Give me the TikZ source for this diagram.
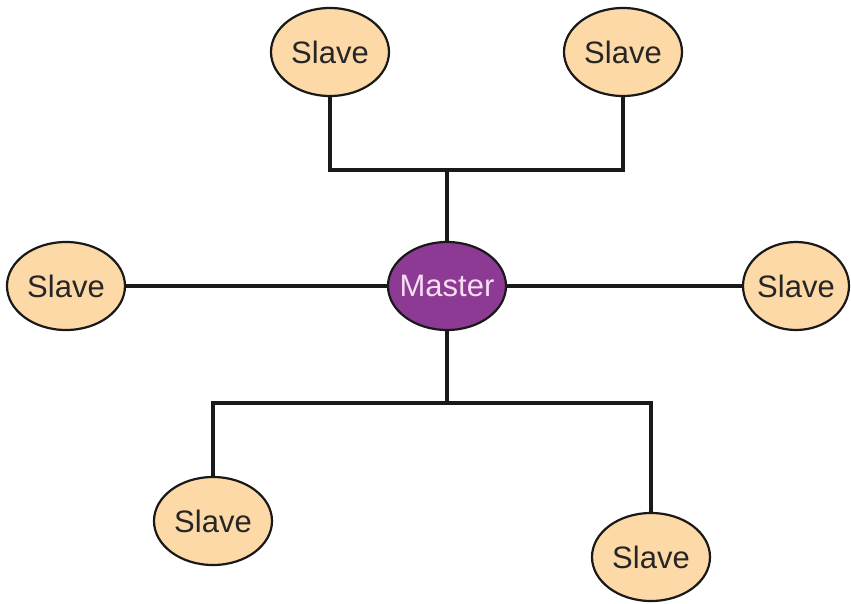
\documentclass[tikz,border=0pt]{standalone}
\usepackage{fontspec}
\setmainfont{Liberation Sans}
\usetikzlibrary{positioning,shapes.geometric}

\definecolor{slavefill}{RGB}{252,217,166}
\definecolor{masterfill}{RGB}{140,58,148}
\definecolor{mastertext}{RGB}{248,220,242}
\newcommand{\unitname}[1]{\makebox[0pt]{#1}}

\begin{document}
\begin{tikzpicture}[x=1pt,y=1pt,on grid,
    unit/.style={ellipse,draw=black!90,line width=2.2pt,minimum width=118pt,
      minimum height=88pt,inner sep=0pt,font=\fontsize{31}{35}\selectfont},
    slave/.style={unit,fill=slavefill,text=black!85},
    master/.style={unit,fill=masterfill,text=mastertext},
    bus/.style={line width=3.2pt,black!90}]
  \useasboundingbox (-447,-317) rectangle (404,286);

  \node[master] (M) at (0,0) {\unitname{Master}};
  \node[slave] (s1) [above left=234pt and 117pt of M]  {\unitname{Slave}};
  \node[slave] (s2) [above right=234pt and 176pt of M] {\unitname{Slave}};
  \node[slave] (s3) [left=381pt of M]                  {\unitname{Slave}};
  \node[slave,minimum width=106pt] (s4) [right=349pt of M] {\unitname{Slave}};
  \node[slave] (s5) [below left=235pt and 234pt of M]  {\unitname{Slave}};
  \node[slave] (s6) [below right=271pt and 204pt of M] {\unitname{Slave}};

  \coordinate[above=116pt of M] (topjoin);
  \coordinate[below=117pt of M] (botjoin);

  \draw[bus] (s1) |- (topjoin) -| (s2);
  \draw[bus] (M) -- (topjoin);
  \draw[bus] (s3) -- (M);
  \draw[bus] (M) -- (s4);
  \draw[bus] (s5) |- (botjoin) -| (s6);
  \draw[bus] (M) -- (botjoin);
\end{tikzpicture}
\end{document}
